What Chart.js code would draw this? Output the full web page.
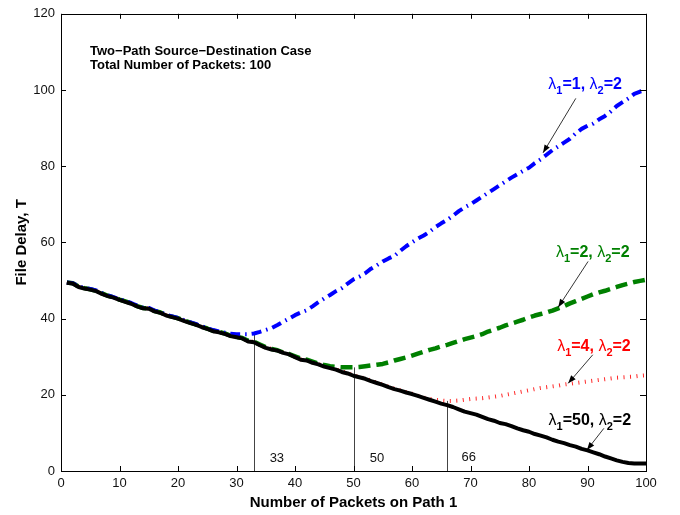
<!DOCTYPE html>
<html>
<head>
<meta charset="utf-8">
<script src="https://cdn.jsdelivr.net/npm/chart.js@4.4.1/dist/chart.umd.min.js"></script>
<style>
  html, body { margin: 0; padding: 0; background: #fff; }
</style>
</head>
<body>
<canvas id="chart" width="680" height="515"></canvas>
<script>
// Number of packets sent on path 1
const packets = [
  1, 2, 3, 4, 5, 6, 7, 8, 9, 10, 11, 12, 13, 14, 15, 16, 17, 18, 19, 20,
  21, 22, 23, 24, 25, 26, 27, 28, 29, 30, 31, 32, 33, 34, 35, 36, 37, 38, 39, 40,
  41, 42, 43, 44, 45, 46, 47, 48, 49, 50, 51, 52, 53, 54, 55, 56, 57, 58, 59, 60,
  61, 62, 63, 64, 65, 66, 67, 68, 69, 70, 71, 72, 73, 74, 75, 76, 77, 78, 79, 80,
  81, 82, 83, 84, 85, 86, 87, 88, 89, 90, 91, 92, 93, 94, 95, 96, 97, 98, 99, 100
];

// File delay T for each lambda1 (lambda2 = 2)
const delayL1 = [
  49.5, 49.3, 48.5, 48.0, 47.8, 47.4, 46.7, 46.1, 45.6, 45.1,
  44.6, 44.1, 43.4, 42.9, 42.8, 42.1, 41.7, 41.0, 40.6, 40.2,
  39.6, 39.1, 38.6, 38.0, 37.5, 37.0, 36.6, 36.3, 36.0, 35.9,
  35.9, 35.9, 36.1, 36.5, 37.0, 37.5, 38.3, 39.2, 40.0, 40.9,
  41.6, 42.2, 43.2, 44.3, 45.3, 46.2, 47.2, 48.0, 49.2, 50.3,
  51.0, 51.9, 53.1, 54.0, 55.0, 55.8, 56.5, 57.8, 59.0, 60.0,
  61.0, 61.8, 62.8, 64.0, 65.0, 65.9, 67.0, 68.2, 69.2, 70.0,
  71.0, 72.0, 73.0, 74.0, 75.0, 76.0, 77.0, 77.9, 78.8, 79.6,
  80.8, 81.8, 83.0, 84.2, 85.2, 86.2, 87.2, 88.6, 89.8, 90.6,
  91.2, 92.3, 93.2, 94.4, 95.8, 96.8, 97.8, 99.0, 99.6, 100.0
];
const delayL2 = [
  49.5, 49.3, 48.4, 48.0, 47.7, 47.3, 46.6, 46.0, 45.6, 45.0,
  44.5, 44.0, 43.3, 42.8, 42.7, 42.0, 41.6, 40.9, 40.5, 40.1,
  39.5, 39.0, 38.5, 37.9, 37.4, 36.8, 36.5, 36.1, 35.5, 35.2,
  34.9, 34.2, 33.9, 33.2, 32.5, 32.0, 31.7, 31.1, 30.7, 30.1,
  29.5, 29.2, 28.7, 28.2, 27.8, 27.5, 27.3, 27.2, 27.2, 27.2,
  27.3, 27.5, 27.7, 27.9, 28.1, 28.5, 29.0, 29.4, 29.8, 30.3,
  30.8, 31.3, 31.8, 32.2, 32.7, 33.1, 33.6, 34.1, 34.6, 35.0,
  35.4, 35.9, 36.6, 37.1, 37.6, 38.2, 38.7, 39.2, 39.7, 40.3,
  40.8, 41.2, 41.6, 42.1, 42.7, 43.3, 44.0, 44.6, 45.2, 45.8,
  46.4, 46.9, 47.3, 47.8, 48.3, 48.8, 49.2, 49.6, 49.9, 50.2
];
const delayL4 = [
  49.5, 49.3, 48.4, 48.0, 47.7, 47.3, 46.6, 46.0, 45.6, 45.0,
  44.5, 44.0, 43.3, 42.8, 42.7, 42.0, 41.6, 40.9, 40.5, 40.1,
  39.5, 39.0, 38.5, 37.9, 37.4, 36.8, 36.5, 36.1, 35.5, 35.2,
  34.9, 34.1, 33.9, 33.1, 32.4, 32.0, 31.7, 31.1, 30.7, 30.0,
  29.3, 29.1, 28.5, 28.1, 27.5, 27.1, 26.7, 26.1, 25.7, 25.1,
  24.7, 24.3, 23.7, 23.2, 22.7, 22.1, 21.6, 21.2, 20.7, 20.3,
  19.8, 19.3, 18.9, 18.7, 18.5, 18.4, 18.4, 18.5, 18.7, 18.9,
  19.0, 19.1, 19.3, 19.5, 19.7, 20.0, 20.3, 20.6, 20.9, 21.2,
  21.5, 21.8, 22.0, 22.2, 22.4, 22.7, 22.9, 23.1, 23.3, 23.5,
  23.7, 23.9, 24.1, 24.3, 24.5, 24.6, 24.7, 24.8, 25.0, 25.1
];
const delayL50 = [
  49.4, 49.2, 48.3, 47.9, 47.6, 47.2, 46.5, 45.9, 45.5, 44.9,
  44.4, 43.9, 43.2, 42.7, 42.6, 41.9, 41.5, 40.8, 40.4, 40.0,
  39.4, 38.9, 38.4, 37.8, 37.3, 36.7, 36.4, 36.0, 35.4, 35.1,
  34.8, 34.0, 33.8, 33.0, 32.3, 31.9, 31.6, 31.0, 30.6, 29.9,
  29.2, 29.0, 28.4, 28.0, 27.4, 27.0, 26.6, 26.0, 25.6, 25.0,
  24.6, 24.2, 23.6, 23.1, 22.6, 22.0, 21.5, 21.1, 20.6, 20.2,
  19.7, 19.2, 18.7, 18.2, 17.7, 17.3, 16.8, 16.2, 15.6, 15.2,
  14.8, 14.2, 13.6, 13.2, 12.6, 12.3, 11.8, 11.2, 10.7, 10.3,
  9.7, 9.3, 8.8, 8.2, 7.7, 7.3, 6.8, 6.4, 5.8, 5.4,
  4.9, 4.4, 3.8, 3.3, 2.8, 2.4, 2.1, 2.0, 2.0, 2.0
];

// optimal split points marked with a vertical line
const optima = [33, 50, 66];
const optimaSeries = [delayL1, delayL2, delayL4];

const xTicks = [0, 10, 20, 30, 40, 50, 60, 70, 80, 90, 100];
const yTicks = [0, 20, 40, 60, 80, 100, 120];

const FONT = '"Liberation Sans", Arial, Helvetica, sans-serif';

function toPoints(arr) {
  return packets.map((p, i) => ({ x: p, y: arr[i] }));
}

// where annotation texts sit (data coords)
const labels = [
  { x: 89.6, y: 100.2, color: '#0000ff', a: '1', b: '2', from: [88.0, 97.8], to: [82.4, 83.5] },
  { x: 90.9, y: 56.1, color: '#008000', a: '2', b: '2', from: [90.1, 55.0], to: [85.0, 43.0] },
  { x: 91.1, y: 31.6, color: '#ff0000', a: '4', b: '2', from: [90.9, 30.5], to: [86.7, 23.0] },
  { x: 90.4, y: 12.0, color: '#000000', a: '50', b: '2', from: [92.8, 11.2], to: [89.9, 5.5] }
];

function lambdaLabel(ctx, cx, baseY, color, a, b) {
  const parts = [
    ['\u03bb', '16px ' + FONT, 0],
    ['1', 'bold 11px ' + FONT, 5],
    ['=' + a + ', ', 'bold 16px ' + FONT, 0],
    ['\u03bb', '16px ' + FONT, 0],
    ['2', 'bold 11px ' + FONT, 5],
    ['=' + b, 'bold 16px ' + FONT, 0]
  ];
  let total = 0;
  parts.forEach(p => { ctx.font = p[1]; total += ctx.measureText(p[0]).width; });
  let xx = cx - total / 2;
  ctx.fillStyle = color;
  ctx.textAlign = 'left';
  ctx.textBaseline = 'alphabetic';
  parts.forEach(p => {
    ctx.font = p[1];
    ctx.fillText(p[0], xx, baseY + p[2]);
    xx += ctx.measureText(p[0]).width;
  });
}

function arrow(ctx, x1, y1, x2, y2) {
  ctx.strokeStyle = '#000';
  ctx.fillStyle = '#000';
  ctx.lineWidth = 0.8;
  ctx.beginPath();
  ctx.moveTo(x1, y1);
  ctx.lineTo(x2, y2);
  ctx.stroke();
  const ang = Math.atan2(y2 - y1, x2 - x1);
  const len = 8, w = 3;
  ctx.beginPath();
  ctx.moveTo(x2, y2);
  ctx.lineTo(x2 - len * Math.cos(ang) + w * Math.sin(ang), y2 - len * Math.sin(ang) - w * Math.cos(ang));
  ctx.lineTo(x2 - len * Math.cos(ang) - w * Math.sin(ang), y2 - len * Math.sin(ang) + w * Math.cos(ang));
  ctx.closePath();
  ctx.fill();
}

const annotations = {
  id: 'annotations',
  beforeDatasetsDraw(chart) {
    const { ctx, scales: { x, y } } = chart;
    ctx.save();
    ctx.strokeStyle = '#444';
    ctx.lineWidth = 1;
    optima.forEach((n, i) => {
      const px = Math.round(x.getPixelForValue(n)) + 0.5;
      ctx.beginPath();
      ctx.moveTo(px, y.getPixelForValue(0));
      ctx.lineTo(px, y.getPixelForValue(optimaSeries[i][n - 1]));
      ctx.stroke();
    });
    ctx.restore();
  },
  afterDraw(chart) {
    const { ctx, chartArea: a, scales: { x, y } } = chart;
    ctx.save();

    // box and inward ticks
    ctx.strokeStyle = '#000';
    ctx.lineWidth = 1;
    ctx.strokeRect(Math.round(a.left) + 0.5, Math.round(a.top) + 0.5,
      Math.round(a.right - a.left), Math.round(a.bottom - a.top));
    ctx.beginPath();
    xTicks.forEach(v => {
      const px = Math.round(x.getPixelForValue(v)) + 0.5;
      ctx.moveTo(px, a.bottom); ctx.lineTo(px, a.bottom - 5);
      ctx.moveTo(px, a.top); ctx.lineTo(px, a.top + 5);
    });
    yTicks.forEach(v => {
      const py = Math.round(y.getPixelForValue(v)) + 0.5;
      ctx.moveTo(a.left, py); ctx.lineTo(a.left + 5, py);
      ctx.moveTo(a.right, py); ctx.lineTo(a.right - 6, py);
    });
    ctx.stroke();

    // axis titles
    ctx.fillStyle = '#000';
    ctx.font = 'bold 15px ' + FONT;
    ctx.textAlign = 'center';
    ctx.textBaseline = 'alphabetic';
    ctx.fillText('Number of Packets on Path 1', (a.left + a.right) / 2, 507);
    ctx.save();
    ctx.translate(26, (a.top + a.bottom) / 2);
    ctx.rotate(-Math.PI / 2);
    ctx.fillText('File Delay, T', 0, 0);
    ctx.restore();

    // case description
    ctx.textAlign = 'left';
    ctx.font = 'bold 13px ' + FONT;
    ctx.fillText('Two\u2212Path Source\u2212Destination Case', x.getPixelForValue(4.96), y.getPixelForValue(109.3));
    ctx.fillText('Total Number of Packets: 100', x.getPixelForValue(4.96), y.getPixelForValue(105.4));

    // optimum labels
    ctx.font = '13px ' + FONT;
    ctx.textAlign = 'center';
    ctx.fillStyle = '#111';
    ctx.fillText('33', x.getPixelForValue(36.9), y.getPixelForValue(2.3));
    ctx.fillText('50', x.getPixelForValue(54.0), y.getPixelForValue(2.3));
    ctx.fillText('66', x.getPixelForValue(69.7), y.getPixelForValue(2.6));

    // curve labels with arrows
    labels.forEach(l => {
      arrow(ctx, x.getPixelForValue(l.from[0]), y.getPixelForValue(l.from[1]),
        x.getPixelForValue(l.to[0]), y.getPixelForValue(l.to[1]));
      lambdaLabel(ctx, x.getPixelForValue(l.x), y.getPixelForValue(l.y), l.color, l.a, l.b);
    });

    ctx.restore();
  }
};

new Chart(document.getElementById('chart'), {
  type: 'line',
  data: {
    datasets: [
      { label: '\u03bb1=50, \u03bb2=2', data: toPoints(delayL50), borderColor: '#000000',
        borderWidth: 4, order: 0 },
      { label: '\u03bb1=1, \u03bb2=2', data: toPoints(delayL1), borderColor: '#0000ff',
        borderWidth: 4, borderDash: [10, 5, 1.5, 5], borderCapStyle: 'butt', order: 1 },
      { label: '\u03bb1=2, \u03bb2=2', data: toPoints(delayL2), borderColor: '#008000',
        borderWidth: 4.5, borderDash: [12, 6], borderCapStyle: 'butt', order: 2 },
      { label: '\u03bb1=4, \u03bb2=2', data: toPoints(delayL4), borderColor: 'rgba(255,0,0,0.85)',
        borderWidth: 4, borderDash: [1, 5.5], borderCapStyle: 'butt', order: 3 }
    ]
  },
  options: {
    responsive: false,
    animation: false,
    layout: { padding: { left: 0, right: 34, top: 11, bottom: 0 } },
    elements: { point: { radius: 0 }, line: { tension: 0, borderJoinStyle: 'round' } },
    plugins: { legend: { display: false }, tooltip: { enabled: false } },
    scales: {
      x: {
        type: 'linear', min: 0, max: 100,
        grid: { display: false, drawTicks: false },
        border: { display: false },
        ticks: { stepSize: 10, padding: 5, color: '#111', font: { family: FONT, size: 13 } },
        afterFit: s => { s.height = 44; }
      },
      y: {
        min: 0, max: 120,
        grid: { display: false, drawTicks: false },
        border: { display: false },
        ticks: { stepSize: 20, padding: 6, color: '#111', font: { family: FONT, size: 13 } },
        afterFit: s => { s.width = 61; }
      }
    }
  },
  plugins: [annotations]
});
</script>
</body>
</html>
